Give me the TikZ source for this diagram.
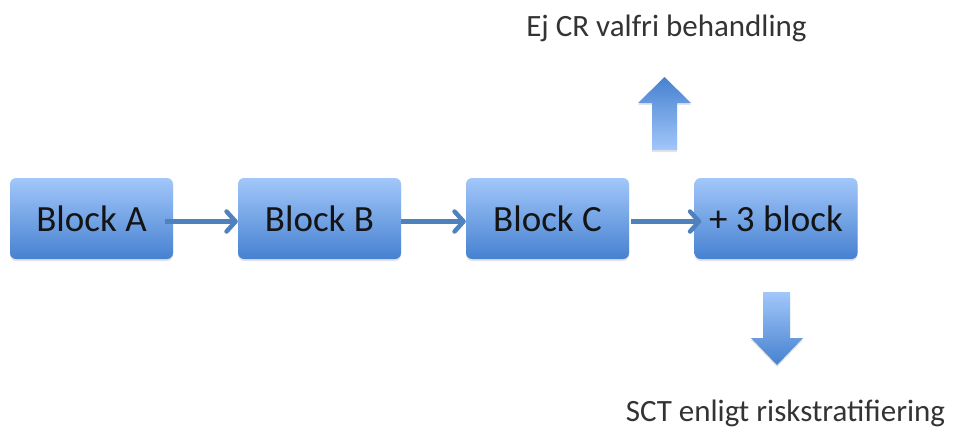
\documentclass[tikz,border=0pt]{standalone}
\usepackage{fontspec}
\setmainfont{Carlito}
\usetikzlibrary{arrows.meta,shadows}
\definecolor{boxtop}{HTML}{A2C7FA}
\definecolor{boxbot}{HTML}{4681D0}
\definecolor{linkblue}{HTML}{4F81BD}
\definecolor{labelgray}{HTML}{333333}
\tikzset{
  blockbox/.style={rounded corners=6pt, minimum width=163pt, minimum height=81pt,
    inner sep=0pt, top color=boxtop, bottom color=boxbot, draw=none,
    drop shadow={shadow xshift=0pt, shadow yshift=-2pt, opacity=0.22},
    font=\fontsize{37}{44}\selectfont, text=black!92},
  link/.style={draw=linkblue, line width=4.5pt,
    -{Straight Barb[length=9pt,width=20pt,line cap=round,line join=round]}},
  sidelabel/.style={font=\fontsize{31}{37}\selectfont, text=labelgray, inner sep=0pt},
  bigarrow/.style={draw=none,
    drop shadow={shadow xshift=0pt, shadow yshift=-2pt, opacity=0.22}}
}
\begin{document}
\begin{tikzpicture}[x=1pt,y=-1pt]
  \useasboundingbox (0,0) rectangle (957,436);
  % process blocks
  \node[blockbox] (a) at (91.5,218.5) {Block A};
  \node[blockbox] (b) at (319.5,218.5) {Block B};
  \node[blockbox] (c) at (547.5,218.5) {Block C};
  \node[blockbox] (d) at (776,218.5) {+ 3 block};
  % links between blocks
  \draw[link] ([xshift=-8pt,yshift=-3pt]a.east) -- ([yshift=-3pt]b.west);
  \draw[link] ([yshift=-3pt]b.east) -- ([yshift=-3pt]c.west);
  \draw[link] ([xshift=2pt,yshift=-3pt]c.east) -- ([xshift=7pt,yshift=-3pt]d.west);
  % outcome labels
  \node[sidelabel] (up) at (666.5,28) {Ej CR valfri behandling};
  \node[sidelabel] (down) at (785.5,413) {SCT enligt riskstratifiering};
  % block arrow pointing up
  \path[bigarrow, top color=boxbot, bottom color=boxtop]
    (652,150) -- (652,103) -- (638,103) -- (664.5,77) -- (691,103)
    -- (677,103) -- (677,150) -- cycle;
  % block arrow pointing down
  \path[bigarrow, top color=boxtop, bottom color=boxbot]
    (763,292) -- (763,338) -- (751,338) -- (777,365) -- (803,338)
    -- (790,338) -- (790,292) -- cycle;
\end{tikzpicture}
\end{document}
